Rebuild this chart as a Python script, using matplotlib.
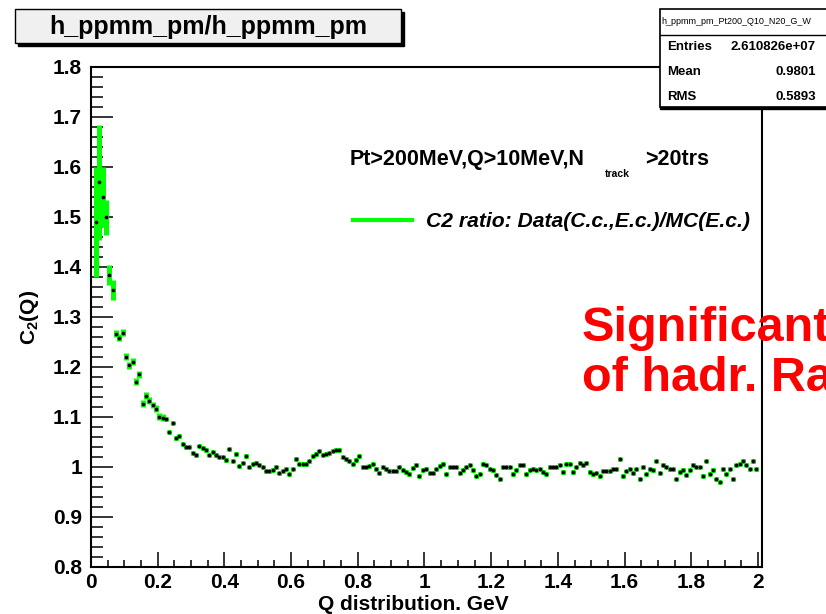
"""C2(Q) ratio Data/MC versus Q, ROOT-style canvas."""
import matplotlib
matplotlib.use("Agg")
import matplotlib.pyplot as plt                                    # noqa: E402
import numpy as np                                                 # noqa: E402
from matplotlib.lines import Line2D                                # noqa: E402
from matplotlib.patches import Rectangle                           # noqa: E402
from matplotlib.ticker import MultipleLocator                      # noqa: E402

W, H = 826, 614
GREEN = "#00ff00"

# bins of 10 MeV from 10 MeV to 2 GeV
Q_EDGES = np.linspace(0.01, 2.0, 200)

C2_LOW = [1.49, 1.57, 1.54, 1.50, 1.384, 1.355]
ERR_LOW = [0.11, 0.115, 0.06, 0.035, 0.02, 0.02]

C2_FALL = [1.267, 1.259, 1.269, 1.221, 1.204, 1.211, 1.171, 1.186, 1.127,
           1.143, 1.133, 1.124, 1.117, 1.101, 1.099, 1.097, 1.071, 1.089,
           1.059, 1.063, 1.047, 1.041, 1.041, 1.029, 1.024, 1.043, 1.039,
           1.035, 1.024, 1.031, 1.024, 1.021, 1.021, 1.015]

C2_MID = [1.036, 1.013, 1.027, 1.003, 1.009, 1.022, 1.001, 1.007, 1.009,
          1.005, 1.001, 0.993, 0.993, 0.994, 1.001, 0.989, 0.993, 0.997,
          0.986, 0.997, 1.016, 1.006, 1.006, 1.007, 1.013, 1.023, 1.026,
          1.033, 1.024, 1.026, 1.029, 1.032, 1.035, 1.035, 1.021, 1.016,
          1.013, 1.006, 1.014, 1.023, 1.001, 1.001, 1.002, 1.006, 0.997,
          0.989, 1.001, 0.997, 0.993, 0.993, 0.993, 1.001, 0.994, 0.991,
          0.987, 0.999, 1.005, 0.982]

C2_FLAT1 = [0.994, 0.997, 0.989, 0.989, 0.997, 1.002, 1.007, 0.986, 1.001,
            1.001, 1.001, 0.989, 0.994, 1.001, 1.005, 0.994, 0.983, 0.987,
            1.007, 1.004, 0.997, 0.995, 0.984, 0.977, 1.001, 1.001, 1.001,
            0.987, 0.994, 1.005, 1.005, 0.987, 0.994, 0.997, 0.995, 0.997,
            0.991, 0.987, 1.001, 1.001, 1.001, 1.004, 0.991, 1.007, 1.007,
            0.991, 1.001, 1.009, 1.004, 1.009, 0.991, 0.987]

C2_FLAT2 = [0.989, 0.982, 0.993, 0.993, 0.993, 0.997, 0.997, 1.016, 0.982,
            0.993, 0.997, 0.989, 0.997, 0.977, 1.001, 0.986, 0.997, 0.995,
            1.013, 0.989, 1.005, 1.001, 0.997, 0.997, 0.977, 0.991, 0.994,
            0.985, 0.994, 1.005, 1.001, 1.001, 0.982, 1.013, 0.987, 0.994,
            0.977, 0.971, 0.997, 0.986, 0.997, 0.977, 1.004, 1.006, 1.013,
            1.004, 0.997, 1.013, 0.997]

C2 = np.array(C2_LOW + C2_FALL + C2_MID + C2_FLAT1 + C2_FLAT2)
ERR = np.array(ERR_LOW + [0.007] * 15 + [0.004] * (len(C2) - 21))

STATS = [("Entries", "2.610826e+07"), ("Mean", "0.9801"), ("RMS", "0.5893")]

plt.rcParams["font.family"] = ["Liberation Sans", "DejaVu Sans"]
plt.rcParams["font.weight"] = "bold"
plt.rcParams["axes.labelweight"] = "bold"
plt.rcParams["mathtext.fontset"] = "custom"
plt.rcParams["mathtext.rm"] = "Liberation Sans"
plt.rcParams["mathtext.default"] = "rm"


def px(x, y):
    return x / W, 1 - y / H


def main():
    fig = plt.figure(figsize=(W / 100, H / 100), dpi=100)
    fig.patch.set_facecolor("white")
    ax = fig.add_axes([91 / W, 1 - 567 / H, (762 - 91) / W, (567 - 67) / H])

    q = 0.5 * (Q_EDGES[:-1] + Q_EDGES[1:])
    ax.errorbar(q, C2, xerr=0.005, yerr=ERR, fmt="o", ms=1.7,
                mfc="black", mec="black", ecolor=GREEN, elinewidth=3.6,
                capsize=0, zorder=3)

    ax.set_xlim(0, 2.012)
    ax.set_ylim(0.8, 1.8)
    ax.xaxis.set_major_locator(MultipleLocator(0.2))
    ax.xaxis.set_minor_locator(MultipleLocator(0.05))
    ax.yaxis.set_major_locator(MultipleLocator(0.1))
    ax.yaxis.set_minor_locator(MultipleLocator(0.02))
    ax.xaxis.set_major_formatter(lambda v, p: f"{v:g}")
    ax.yaxis.set_major_formatter(lambda v, p: f"{v:g}")
    ax.tick_params(which="both", direction="in", top=False, right=False,
                   width=1.1, labelsize=15)
    ax.tick_params(axis="y", which="major", length=16, pad=6.5)
    ax.tick_params(axis="y", which="minor", length=8.5)
    ax.tick_params(axis="x", which="major", length=11, pad=4)
    ax.tick_params(axis="x", which="minor", length=5)
    for sp in ax.spines.values():
        sp.set_linewidth(1.5)

    ax.set_xlabel("Q distribution. GeV", fontsize=15)
    ax.xaxis.set_label_coords(0.481, -0.057)
    ax.set_ylabel(r"C$_{2}$(Q)", fontsize=15)
    ax.yaxis.set_label_coords(-0.075, 0.5)

    # cut label
    fig.text(*px(350, 165), "Pt>200MeV,Q>10MeV,N", fontsize=15.5,
             va="baseline", ha="left")
    fig.text(*px(605, 177), "track", fontsize=7.5, va="baseline",
             ha="left")
    fig.text(*px(645, 165), ">20trs", fontsize=15.5, va="baseline",
             ha="left")

    handle = Line2D([], [], color=GREEN, lw=3)
    leg = ax.legend([handle], ["C2 ratio: Data(C.c.,E.c.)/MC(E.c.)"],
                    loc="center left", bbox_to_anchor=px(353, 222),
                    bbox_transform=fig.transFigure, frameon=False,
                    borderpad=0, borderaxespad=0, handlelength=2.8,
                    handletextpad=0.65,
                    prop={"size": 15.2, "weight": "bold", "style": "italic"})
    leg.set_zorder(5)

    # title box with shadow
    x0, y0 = px(15, 43)
    bw, bh = 386 / W, 34 / H
    fig.patches.append(Rectangle((x0 + 3 / W, y0 - 3 / H), bw, bh,
                                 transform=fig.transFigure,
                                 facecolor="black", edgecolor="black"))
    fig.patches.append(Rectangle((x0, y0), bw, bh,
                                 transform=fig.transFigure,
                                 facecolor="#f0f0f0", edgecolor="black",
                                 lw=1))
    fig.text(*px(208, 27), "h_ppmm_pm/h_ppmm_pm", fontsize=18,
             ha="center", va="center")

    # stats box
    sx, sy = px(660, 107)
    fig.patches.append(Rectangle((sx, sy - 2 / H), 200 / W, 98 / H,
                                 transform=fig.transFigure,
                                 facecolor="black", edgecolor="black",
                                 zorder=10))
    fig.patches.append(Rectangle((sx, sy), 200 / W, 98 / H,
                                 transform=fig.transFigure,
                                 facecolor="white", edgecolor="black",
                                 lw=1.2, zorder=11))
    fig.add_artist(Line2D([sx, 1], [px(0, 35)[1]] * 2,
                          transform=fig.transFigure, color="black",
                          lw=1, zorder=12))
    fig.text(*px(661, 22), "h_ppmm_pm_Pt200_Q10_N20_G_W", fontsize=6.5,
             weight="normal", ha="left", va="center", zorder=12)
    for i, (name, val) in enumerate(STATS):
        yy = 47 + 25 * i
        fig.text(*px(667, yy), name, fontsize=9.5, ha="left", va="center",
                 zorder=12)
        fig.text(*px(816, yy), val, fontsize=9.5, ha="right",
                 va="center", zorder=12)

    # overlaid slide text, cut at the canvas edge as in the original
    fig.text(*px(582, 341), "Significant", fontsize=35, color="#ff0000",
             va="baseline", ha="left", zorder=20)
    fig.text(*px(582, 391), "of hadr. Ra", fontsize=35, color="#ff0000",
             va="baseline", ha="left", zorder=20)

    fig.savefig("out.png", dpi=100)


if __name__ == "__main__":
    main()
